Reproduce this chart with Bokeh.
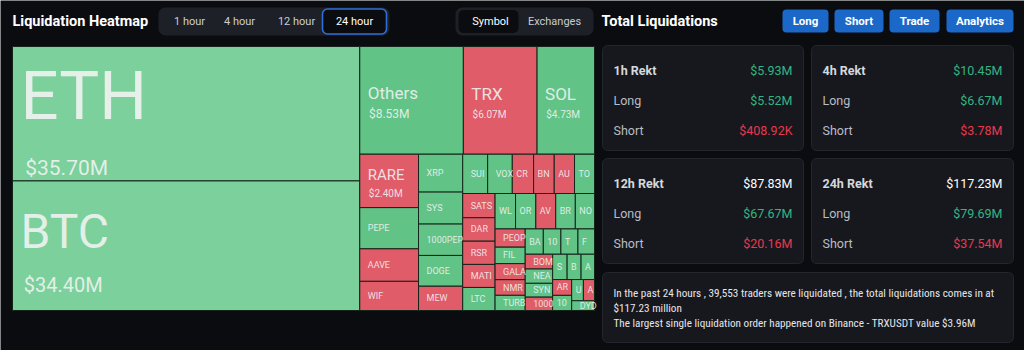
import math
from bokeh.plotting import figure
from bokeh.models import Range1d, ColumnDataSource
from bokeh.core.properties import value
from bokeh.embed import file_html
from bokeh.resources import INLINE

# ---------------- data ----------------
symbols = ["ETH", "BTC", "Others", "TRX", "SOL",
           "RARE", "PEPE", "AAVE", "WIF",
           "XRP", "SYS", "1000PEP", "DOGE", "MEW",
           "SUI", "VOX", "CR", "BN", "AU", "TO",
           "SATS", "DAR", "RSR", "MATI", "LTC",
           "WL", "OR", "AV", "BR", "NO",
           "PEOP", "FIL", "GALA", "NMR", "TURB",
           "BA", "10", "T", "F",
           "BOM", "NEA", "SYN", "1000",
           "S", "B", "A",
           "AR", "10",
           "U", "A", "DYD"]
liq_musd = [35.70, 34.40, 8.53, 6.07, 4.73,
            2.40, 1.85, 1.46, 1.31,
            1.28, 1.08, 1.06, 1.04, 0.82,
            0.75, 0.74, 0.64, 0.62, 0.61, 0.60,
            0.60, 0.58, 0.575, 0.57, 0.57,
            0.555, 0.55, 0.54, 0.53, 0.52,
            0.42, 0.38, 0.37, 0.36, 0.35,
            0.35, 0.34, 0.33, 0.32,
            0.31, 0.30, 0.29, 0.28,
            0.28, 0.27, 0.26,
            0.23, 0.22,
            0.19, 0.18, 0.17]
# dominant side: L = long-heavy (green), S = short-heavy (red)
side = ["L", "L", "L", "S", "L",
        "S", "L", "S", "S",
        "L", "L", "L", "L", "S",
        "L", "L", "S", "S", "S", "L",
        "S", "S", "S", "S", "L",
        "L", "L", "S", "L", "L",
        "S", "L", "S", "S", "L",
        "L", "L", "L", "L",
        "S", "L", "L", "S",
        "L", "L", "L",
        "S", "L",
        "L", "S", "L"]

periods = ["1h Rekt", "4h Rekt", "12h Rekt", "24h Rekt"]
total_musd = [5.93, 10.45, 87.83, 117.23]
long_musd = [5.52, 6.67, 67.67, 79.69]
short_musd = [0.40892, 3.78, 20.16, 37.54]

time_tabs = ["1 hour", "4 hour", "12 hour", "24 hour"]
group_tabs = ["Symbol", "Exchanges"]
buttons = ["Long", "Short", "Trade", "Analytics"]
summary_lines = [
    "In the past 24 hours , 39,553 traders were liquidated , the total liquidations comes in at",
    "$117.23 million",
    "The largest single liquidation order happened on Binance - TRXUSDT value $3.96M",
]

# ---------------- style ----------------
BG = "#0b0c10"
CARD = "#17181d"
CARD_LINE = "#24262d"
GREEN_TXT = "#33b583"
RED_TXT = "#e8394f"
CELL_GREEN = "#62c387"
CELL_GREEN_BIG = "#7cd09b"
CELL_RED = "#e05c68"
BLUE = "#1b68c8"
UI_FONT = "Roboto"
CELL_FONT = "Roboto"
NARROW = "'Liberation Sans Narrow', 'Roboto Condensed', Roboto"

W, H = 1024, 350
p = figure(width=W, height=H, x_range=Range1d(0, W), y_range=Range1d(H, 0),
           output_backend="svg", toolbar_location=None, min_border=0,
           x_axis_type=None, y_axis_type=None,
           background_fill_color=BG, border_fill_color=BG, outline_line_color=None)
p.grid.visible = False


def fmt_money(v):
    if v < 1:
        return "$%.2fK" % (v * 1000)
    return "$%.2fM" % v


# ---------------- treemap (ECharts-like squarify) ----------------
PHI = (1 + 5 ** 0.5) / 2


def squarify(vals, x, y, w, h, ratio=PHI):
    n = len(vals)
    tot = sum(vals)
    areas = [v * w * h / tot for v in vals]
    out = [None] * n
    rect = [x, y, w, h]

    def worst(row, area, fixed):
        amax = max(areas[i] for i in row)
        amin = min(areas[i] for i in row)
        sq = area * area
        f = fixed * fixed * ratio
        return max(f * amax / sq, sq / (f * amin))

    def position(row, area, fixed, flush):
        horiz = fixed == rect[2]
        other = area / fixed if fixed else 0
        lim = rect[3] if horiz else rect[2]
        if flush or other > lim:
            other = lim
        last = rect[0] if horiz else rect[1]
        end = (rect[0] + rect[2]) if horiz else (rect[1] + rect[3])
        for k, idx in enumerate(row):
            step = areas[idx] / other if other else 0
            remain = end - last
            mod = remain if (k == len(row) - 1 or remain < step) else step
            if horiz:
                out[idx] = (last, rect[1], mod, other)
            else:
                out[idx] = (rect[0], last, other, mod)
            last += mod
        if horiz:
            rect[1] += other
            rect[3] -= other
        else:
            rect[0] += other
            rect[2] -= other

    row, row_area, best = [], 0.0, math.inf
    fixed = min(w, h)
    i = 0
    while i < n:
        row.append(i)
        row_area += areas[i]
        sc = worst(row, row_area, fixed)
        if sc <= best:
            i += 1
            best = sc
        else:
            row.pop()
            row_area -= areas[i]
            position(row, row_area, fixed, False)
            fixed = min(rect[2], rect[3])
            row, row_area, best = [], 0.0, math.inf
    if row:
        position(row, row_area, fixed, True)
    return out


TM_X0, TM_Y0, TM_X1, TM_Y1 = 12, 46, 594, 310
order = sorted(range(len(liq_musd)), key=lambda k: -liq_musd[k])
svals = [liq_musd[k] for k in order]
rects_sorted = squarify(svals, TM_X0, TM_Y0, TM_X1 - TM_X0, TM_Y1 - TM_Y0)
rects = [None] * len(liq_musd)
for pos, k in enumerate(order):
    rects[k] = rects_sorted[pos]

cell = dict(l=[], r=[], t=[], b=[], c=[])
for k, (x, y, w, h) in enumerate(rects):
    cell["l"].append(x)
    cell["r"].append(x + w)
    cell["t"].append(y)
    cell["b"].append(y + h)
    if side[k] == "S":
        cell["c"].append(CELL_RED)
    elif liq_musd[k] >= 20:
        cell["c"].append(CELL_GREEN_BIG)
    else:
        cell["c"].append(CELL_GREEN)
p.quad(left="l", right="r", top="t", bottom="b", fill_color="c",
       line_color="#15251c", line_width=1, source=ColumnDataSource(cell))


def name_size(v):
    if v >= 35:
        return 67
    if v >= 20:
        return 48
    if v >= 4:
        return 17
    if v >= 2:
        return 15
    return 9


def value_size(v):
    if v >= 20:
        return 21 if v >= 35 else 20
    if v >= 8:
        return 12
    return 10


lab = dict(x=[], y=[], text=[], size=[])
for k, (x, y, w, h) in enumerate(rects):
    v = liq_musd[k]
    fn = name_size(v)
    cy = y + h / 2
    if v >= 2:
        fv = value_size(v)
        ncap, vcap, gap = 0.72 * fn, 0.72 * fv, 0.6 * fn
        top = cy + 0.15 * fn - (ncap + gap + vcap) / 2
        nb = top + ncap
        vb = nb + gap + vcap
        lab["x"] += [x + 8, x + 8 + 0.07 * fn]
        lab["y"] += [nb - ncap / 2, vb - vcap / 2]
        lab["text"] += [symbols[k], fmt_money(v)]
        lab["size"] += ["%dpx" % fn, "%dpx" % fv]
    else:
        lab["x"].append(x + (8 if w > 22 else 4))
        lab["y"].append(cy)
        lab["text"].append(symbols[k])
        lab["size"].append("%dpx" % fn)
p.text(x="x", y="y", text="text", text_font_size="size", source=ColumnDataSource(lab),
       text_font=value(CELL_FONT), text_color="#f2f4f3", text_alpha=0.88,
       text_baseline="middle", text_align="left")

# ---------------- header ----------------
p.text(x=[12], y=[21], text=["Liquidation Heatmap"], text_font=value(UI_FONT),
       text_font_size="14.5px", text_font_style="bold", text_color="#ffffff",
       text_baseline="middle")
p.quad(left=[158], right=[389], top=[7], bottom=[35], fill_color="#1d2027",
       line_color=None, border_radius=7)
p.quad(left=[322], right=[386], top=[8.5], bottom=[33.5], fill_color=BG,
       line_color="#2f6fd6", line_width=1.6, border_radius=5)
tab_x = [189, 239, 296, 354]
p.text(x=tab_x, y=[21] * 4, text=time_tabs, text_font=value(UI_FONT),
       text_font_size="11px", text_color=["#c9cdd4", "#c9cdd4", "#c9cdd4", "#ffffff"],
       text_align="center", text_baseline="middle")
p.quad(left=[455], right=[593], top=[7], bottom=[35], fill_color="#1d2027",
       line_color=None, border_radius=7)
p.quad(left=[458], right=[518], top=[9.5], bottom=[32.5], fill_color=BG,
       line_color=None, border_radius=5)
p.text(x=[490, 554], y=[21, 21], text=group_tabs, text_font=value(UI_FONT),
       text_font_size="11px", text_color=["#ffffff", "#c9cdd4"],
       text_align="center", text_baseline="middle")
p.text(x=[601], y=[21], text=["Total Liquidations"], text_font=value(UI_FONT),
       text_font_size="14.5px", text_font_style="bold", text_color="#ffffff",
       text_baseline="middle")
btn_l = [782, 834, 889, 946]
btn_r = [828, 883, 939, 1013]
p.quad(left=btn_l, right=btn_r, top=[9] * 4, bottom=[32] * 4, fill_color=BLUE,
       line_color=None, border_radius=4)
p.text(x=[(a + b) / 2 for a, b in zip(btn_l, btn_r)], y=[20.5] * 4, text=buttons,
       text_font=value(UI_FONT), text_font_size="11.5px", text_font_style="bold",
       text_color="#ffffff", text_align="center", text_baseline="middle")

# ---------------- stat cards ----------------
card_l = [602, 811, 602, 811]
card_r = [803, 1013, 803, 1013]
card_t = [45, 45, 158, 158]
card_b = [150, 150, 263, 263]
p.quad(left=card_l + [602], right=card_r + [1013], top=card_t + [272],
       bottom=card_b + [342], fill_color=CARD, line_color=CARD_LINE, line_width=1,
       border_radius=5)
total_colors = [GREEN_TXT, GREEN_TXT, "#ffffff", "#ffffff"]
lx, ly, lt, lc, lw = [], [], [], [], []
vx, vy, vt, vc = [], [], [], []
for i in range(4):
    t = card_t[i]
    rows = [(periods[i], total_musd[i], total_colors[i], "bold", "#d5d8dd"),
            ("Long", long_musd[i], GREEN_TXT, "normal", "#b9bdc5"),
            ("Short", short_musd[i], RED_TXT, "normal", "#b9bdc5")]
    for j, (lbl, val, col, wt, lcol) in enumerate(rows):
        yy = t + 24.5 + 30 * j
        lx.append(card_l[i] + 11); ly.append(yy); lt.append(lbl); lc.append(lcol); lw.append(wt)
        vx.append(card_r[i] - 11); vy.append(yy); vt.append(fmt_money(val)); vc.append(col)
p.text(x=lx, y=ly, text=lt, text_color=lc, text_font_style=lw, text_font=value(UI_FONT),
       text_font_size="12.5px", text_baseline="middle")
p.text(x=vx, y=vy, text=vt, text_color=vc, text_font=value(UI_FONT),
       text_font_size="12.5px", text_baseline="middle", text_align="right")
p.text(x=[613] * 3, y=[292.5, 307.5, 322.5], text=summary_lines, text_font=value(NARROW),
       text_font_size="11.2px", text_color="#e4e6ea", text_baseline="middle")

open("out.html", "w").write(file_html(p, INLINE))
